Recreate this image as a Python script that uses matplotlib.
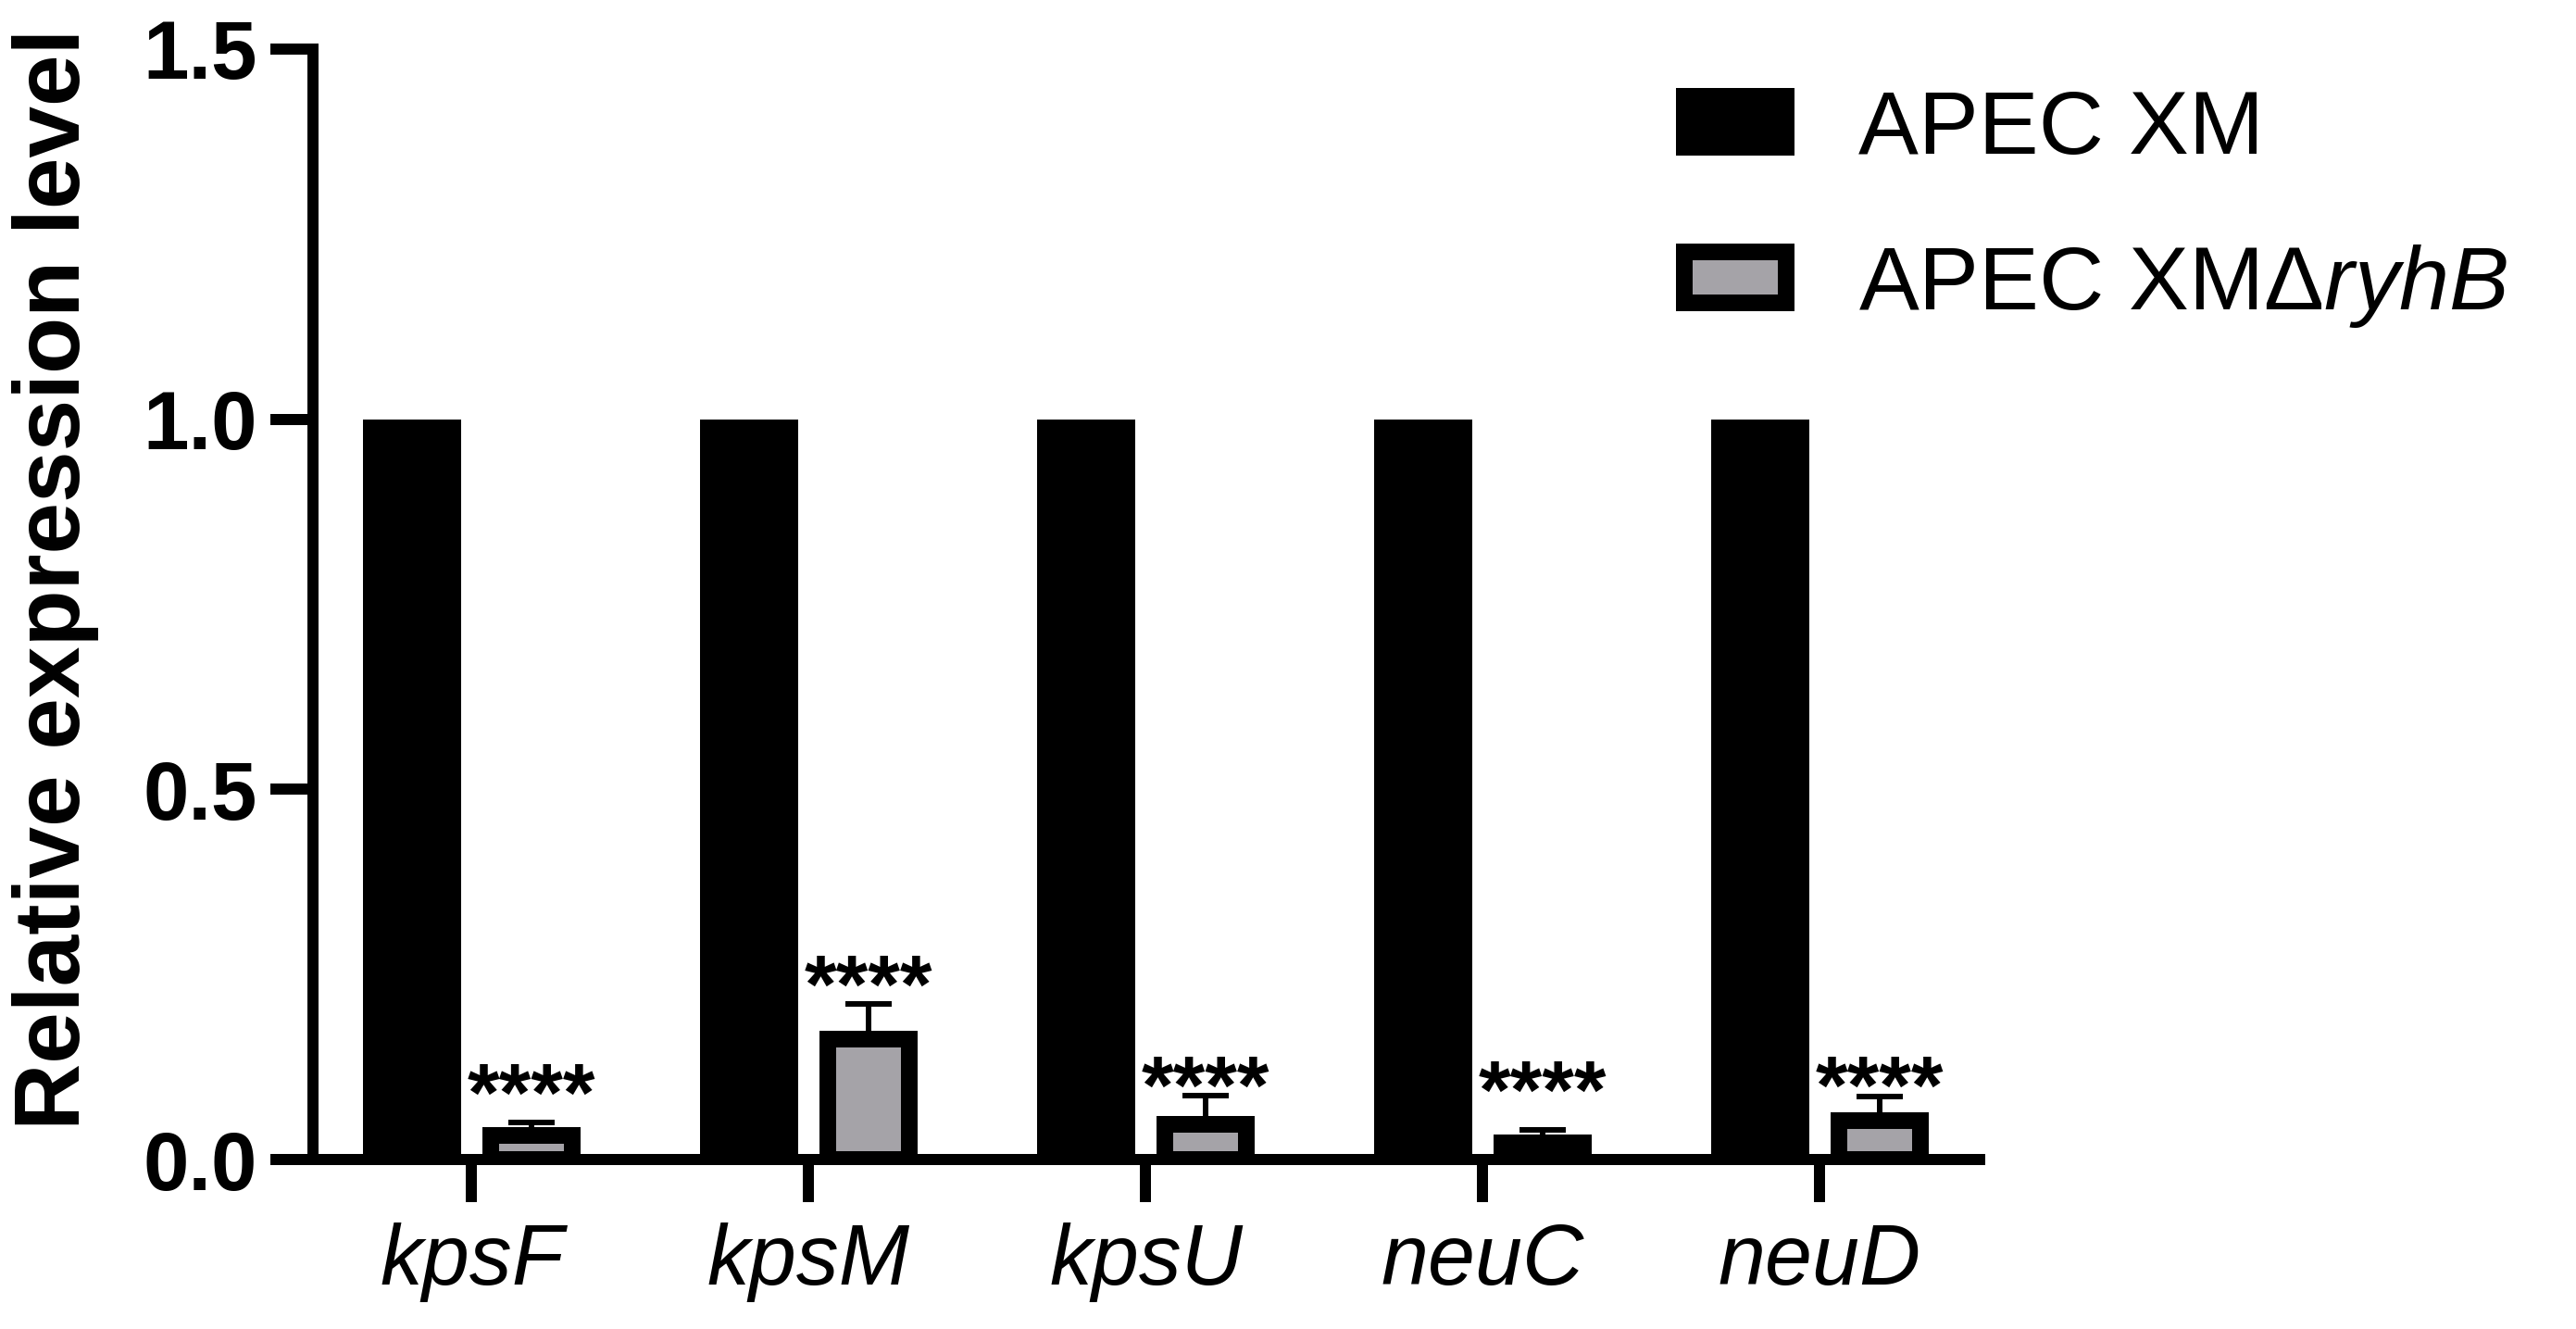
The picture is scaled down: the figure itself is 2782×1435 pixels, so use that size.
import matplotlib
matplotlib.use("Agg")
import matplotlib.pyplot as plt
from matplotlib.patches import Patch
import numpy as np

plt.rcParams['font.family'] = ['Liberation Sans', 'DejaVu Sans']
plt.rcParams['mathtext.fontset'] = 'custom'
plt.rcParams['mathtext.rm'] = 'Liberation Sans'
plt.rcParams['mathtext.it'] = 'Liberation Sans:italic'
plt.rcParams['mathtext.bf'] = 'Liberation Sans:bold'

# ---- data ----
genes = ["kpsF", "kpsM", "kpsU", "neuC", "neuD"]
series_names = ["APEC XM", "APEC XM\u0394$\\mathit{ryhB}$"]
wt_values = [1.0, 1.0, 1.0, 1.0, 1.0]
mut_values = [0.033, 0.163, 0.048, 0.023, 0.053]
mut_err = [0.017, 0.047, 0.038, 0.017, 0.032]
sig_labels = ["****", "****", "****", "****", "****"]
sig_y = [0.100, 0.246, 0.110, 0.103, 0.110]
yticks = [0.0, 0.5, 1.0, 1.5]
ytick_labels = ["0.0", "0.5", "1.0", "1.5"]
ylabel = "Relative expression level"

gray = "#a5a3a8"

fig = plt.figure(figsize=(13.91, 7.175), dpi=200)
ax = fig.add_axes([338/2782, 1-1252/1435, (2138-338)/2782, (1252-53)/1435])

x = np.arange(len(genes))
off = 0.177
ax.bar(x - off, wt_values, width=0.291, color="black", linewidth=0, zorder=1)
ax.bar(x + off, mut_values, width=0.242, color=gray, edgecolor="black",
       linewidth=6.48, zorder=1)
ax.errorbar(x + off, mut_values, yerr=[np.zeros(len(genes)), mut_err], fmt="none",
            ecolor="black", elinewidth=2.16, capsize=9, capthick=2.16, zorder=3)

for xi, s, yy in zip(x + off, sig_labels, sig_y):
    ax.annotate(s, (xi, yy), xytext=(0, -13.5), textcoords="offset points",
                ha="center", va="baseline", fontsize=32, fontweight="bold",
                color="black")

ax.set_xlim(-0.471, 4.474)
ax.set_ylim(0, 1.5)
ax.set_yticks(yticks)
ax.set_yticklabels(ytick_labels, fontsize=32, fontweight="bold")
ax.set_xticks(x)
ax.set_xticklabels(genes, fontsize=33, fontstyle="italic")

for side in ["top", "right"]:
    ax.spines[side].set_visible(False)
for side in ["left", "bottom"]:
    ax.spines[side].set_linewidth(4.32)
    ax.spines[side].set_capstyle("projecting")
ax.tick_params(axis="both", direction="out", length=16.6, width=4.32, color="black")
ax.tick_params(axis="y", pad=5)
ax.tick_params(axis="x", pad=8)

fig.text(60/2782, 1-625/1435, ylabel, rotation=90, ha="center", va="center",
         fontsize=36, fontweight="bold")

handles = [Patch(facecolor="black", edgecolor="black", linewidth=6.48),
           Patch(facecolor=gray, edgecolor="black", linewidth=6.48)]
fig.legend(handles, series_names, loc="upper left",
           bbox_to_anchor=(1819/2782, 1-96/1435), frameon=False, fontsize=35,
           handlelength=1.134, handleheight=0.485, handletextpad=0.8,
           labelspacing=0.78, borderpad=0, borderaxespad=0)

fig.savefig("out.png", dpi=200)
